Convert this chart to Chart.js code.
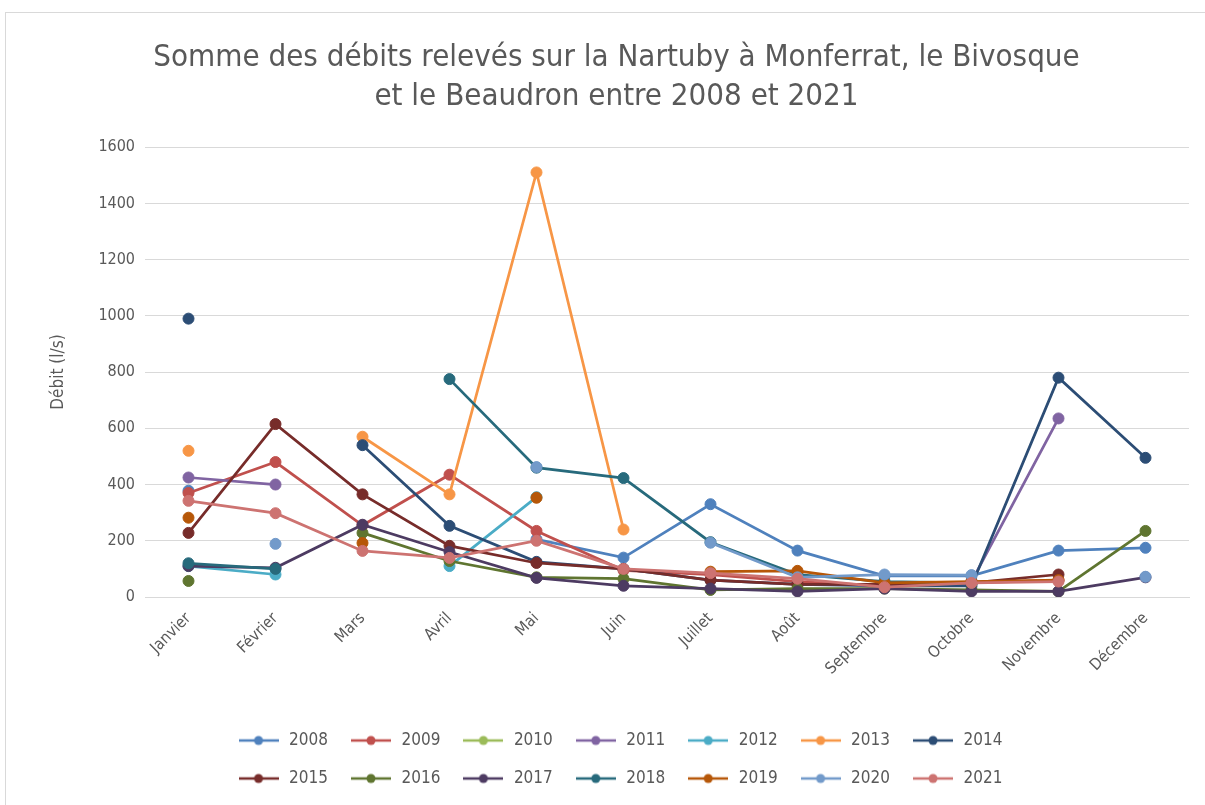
<!DOCTYPE html>
<html>
<head>
<meta charset="utf-8">
<title>Débits Nartuby</title>
<script src="https://cdn.jsdelivr.net/npm/chart.js@4.4.0/dist/chart.umd.min.js"></script>
<style>
    html, body { margin: 0; background: #fff; }
    #frame {
        position: absolute; left: 5px; top: 12px;
        width: 1200px; height: 793px;
        border-left: 1px solid #d9d9d9; border-top: 1px solid #d9d9d9;
        box-sizing: border-box;
    }
</style>
</head>
<body>
<div id="frame"><canvas id="debitsChart"></canvas></div>
<script>
var mois = ["Janvier", "Février", "Mars", "Avril", "Mai", "Juin", "Juillet", "Août", "Septembre", "Octobre", "Novembre", "Décembre"];
var annees = ["2008", "2009", "2010", "2011", "2012", "2013", "2014", "2015", "2016", "2017", "2018", "2019", "2020", "2021"];
var yTicks = [0, 200, 400, 600, 800, 1000, 1200, 1400, 1600];

// débits mensuels (l/s), null = pas de relevé
var d2008 = [378, null, null, null, 205, 140, 330, 165, 75, 75, 165, 175];
var d2009 = [370, 480, 255, 435, 235, 95, 80, 55, 40, 50, 60, null];
var d2010 = [null, null, null, null, null, null, null, null, null, null, null, null];
var d2011 = [425, 400, null, null, null, null, null, null, null, 55, 635, null];
var d2012 = [110, 80, null, 110, 355, null, null, null, null, null, null, null];
var d2013 = [520, null, 570, 365, 1510, 240, null, null, null, null, null, null];
var d2014 = [990, null, 540, 253, 125, 100, 60, 45, 40, 40, 780, 495];
var d2015 = [228, 615, 365, 182, 121, 100, 60, 45, 45, 50, 80, null];
var d2016 = [57, null, 228, 128, 70, 65, 25, 30, 30, 25, 20, 235];
var d2017 = [110, 104, 257, 160, 68, 40, 30, 20, 30, 20, 20, 70];
var d2018 = [120, 100, null, 775, 460, 423, 195, 80, 55, 50, null, null];
var d2019 = [282, null, 192, null, 353, null, 90, 93, 50, 55, 60, null];
var d2020 = [null, 189, null, null, 462, null, 193, 70, 80, 78, null, 72];
var d2021 = [342, 298, 164, 139, 200, 100, 85, 65, 35, 50, 55, null];

var series = [d2008, d2009, d2010, d2011, d2012, d2013, d2014, d2015, d2016, d2017, d2018, d2019, d2020, d2021];
var couleurs = ["#4F81BD", "#C0504D", "#9BBB59", "#8064A2", "#4BACC6", "#F79646", "#2C4D75",
                "#772C2A", "#5F7530", "#4D3B62", "#276A7C", "#B65708", "#729ACA", "#CD7371"];

var police = "'Liberation Sans Narrow', 'DejaVu Sans Condensed', 'Roboto', sans-serif";
var gris = "#595959";
var LEGEND_W = 850;

// petit trait + pastille pour la légende
function marqueLegende(couleur) {
    var c = document.createElement("canvas");
    c.width = 40;
    c.height = 12;
    var g = c.getContext("2d");
    g.strokeStyle = couleur;
    g.lineWidth = 2.5;
    g.beginPath();
    g.moveTo(0, 6);
    g.lineTo(40, 6);
    g.stroke();
    g.fillStyle = couleur;
    g.beginPath();
    g.arc(20, 6, 4.5, 0, Math.PI * 2);
    g.fill();
    return c;
}
var marques = couleurs.map(marqueLegende);

var datasets = annees.map(function(a, i) {
    return {
        label: a,
        data: series[i],
        borderColor: couleurs[i],
        backgroundColor: couleurs[i],
        borderWidth: 2.75,
        pointRadius: 5.5,
        pointHoverRadius: 5.5,
        pointBorderWidth: 1,
        pointStyle: "circle",
        tension: 0,
        order: -i
    };
});

// légende sur deux lignes de 7 années
var legendeDeuxLignes = {
    id: "legendeDeuxLignes",
    beforeUpdate: function(chart) {
        var lg = chart.legend;
        if (!lg || lg._patched) return;
        var upd = lg.update;
        lg.update = function(w, h, m) {
            upd.call(this, Math.min(w, LEGEND_W), h, m);
        };
        lg._patched = true;
    },
    afterLayout: function(chart) {
        var lg = chart.legend;
        var mid = chart.width / 2 + 14;
        lg.left = mid - LEGEND_W / 2;
        lg.right = mid + LEGEND_W / 2;
        lg.width = LEGEND_W;
    }
};

var ctx = document.getElementById("debitsChart");
new Chart(ctx, {
    type: "line",
    data: {
        labels: mois,
        datasets: datasets
    },
    plugins: [legendeDeuxLignes],
    options: {
        responsive: true,
        maintainAspectRatio: false,
        animation: false,
        layout: {
            padding: { left: 38, right: 16, top: 0, bottom: 8 }
        },
        plugins: {
            tooltip: { enabled: false },
            title: {
                display: true,
                text: ["Somme des débits relevés sur la Nartuby à Monferrat, le Bivosque", "et le Beaudron entre 2008 et 2021"],
                color: gris,
                font: { family: police, size: 31, weight: "normal", lineHeight: 1.26 },
                padding: { top: 25, bottom: 31 }
            },
            legend: {
                position: "bottom",
                labels: {
                    usePointStyle: true,
                    pointStyleWidth: 44,
                    padding: 21,
                    color: gris,
                    font: { family: police, size: 17 },
                    sort: function(a, b) { return a.datasetIndex - b.datasetIndex; },
                    generateLabels: function(chart) {
                        var items = Chart.defaults.plugins.legend.labels.generateLabels(chart);
                        items.forEach(function(it) {
                            it.pointStyle = marques[it.datasetIndex];
                        });
                        return items;
                    }
                }
            }
        },
        scales: {
            x: {
                offset: true,
                grid: { display: false, drawTicks: false },
                border: { display: true, color: "#d9d9d9", width: 1 },
                ticks: {
                    color: gris,
                    font: { family: police, size: 16 },
                    maxRotation: 45,
                    minRotation: 45,
                    padding: 12,
                    autoSkip: false
                },
                afterFit: function(scale) { scale.height = 114; }
            },
            y: {
                min: 0,
                max: 1600,
                afterBuildTicks: function(scale) {
                    scale.ticks = yTicks.map(function(v) { return { value: v }; });
                },
                grid: { color: "#d9d9d9", drawTicks: false },
                border: { display: false },
                ticks: {
                    color: gris,
                    font: { family: police, size: 16 },
                    padding: 10,
                    callback: function(v) { return String(v); }
                },
                title: {
                    display: true,
                    text: "Débit (l/s)",
                    color: gris,
                    font: { family: police, size: 17 },
                    padding: { top: 4, bottom: 0 }
                },
                afterFit: function(scale) { scale.width = 101; }
            }
        }
    }
});
</script>
</body>
</html>
